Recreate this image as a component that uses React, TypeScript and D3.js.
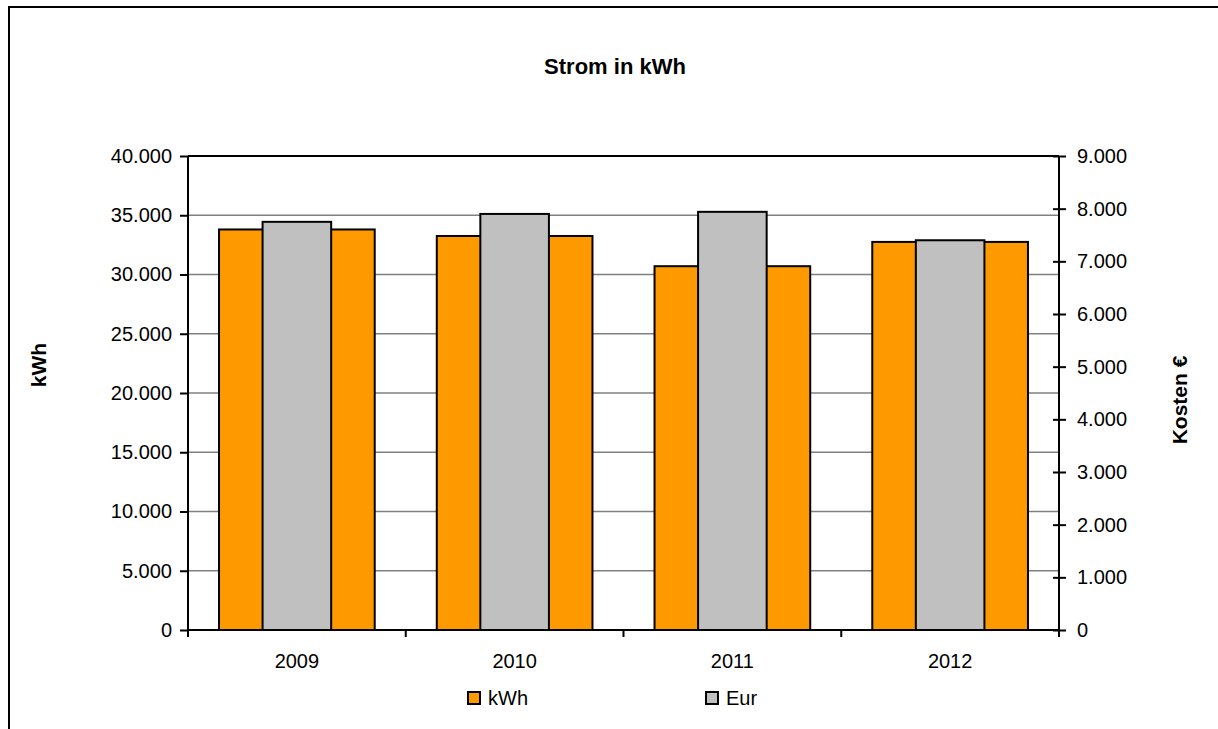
import { useEffect, useRef } from "react";
import * as d3 from "d3";

const YEARS = ["2009", "2010", "2011", "2012"];
const KWH = [33800, 33250, 30700, 32750];
const EUR = [7750, 7900, 7940, 7400];
const KWH_TICKS = [0, 5000, 10000, 15000, 20000, 25000, 30000, 35000, 40000];
const EUR_TICKS = [0, 1000, 2000, 3000, 4000, 5000, 6000, 7000, 8000, 9000];

const W = 1218;
const H = 729;
const PLOT = { left: 188, right: 1059, top: 156, bottom: 630 };
const ORANGE = "#FF9900";
const GRAY = "#C0C0C0";
const FONT = "Liberation Sans, Arial, sans-serif";

// German thousands separator
const fmt = (v: number) => (v === 0 ? "0" : d3.format(",")(v).replace(/,/g, "."));

export default function App() {
  const svgRef = useRef<SVGSVGElement>(null);

  useEffect(() => {
    if (!svgRef.current) return;
    const svg = d3.select(svgRef.current);
    svg.selectAll("*").remove();

    const x = d3.scaleBand().domain(YEARS).range([PLOT.left, PLOT.right]).padding(0);
    const yL = d3.scaleLinear().domain([0, 40000]).range([PLOT.bottom, PLOT.top]);
    const yR = d3.scaleLinear().domain([0, 9000]).range([PLOT.bottom, PLOT.top]);

    // outer frame (only left/top visible)
    svg.append("path")
      .attr("d", `M9,${H + 5} V7 H${W + 5}`)
      .attr("fill", "none")
      .attr("stroke", "#000")
      .attr("stroke-width", 2);

    // title
    svg.append("text")
      .attr("x", 615).attr("y", 74)
      .attr("text-anchor", "middle")
      .attr("font-family", FONT).attr("font-weight", "bold").attr("font-size", 22)
      .text("Strom in kWh");

    // gridlines
    svg.append("g")
      .selectAll("line")
      .data(KWH_TICKS.filter((t) => t > 0 && t < 40000))
      .join("line")
      .attr("x1", PLOT.left).attr("x2", PLOT.right)
      .attr("y1", (d) => yL(d)).attr("y2", (d) => yL(d))
      .attr("stroke", "#808080").attr("stroke-width", 1.5);

    // top border of plot
    svg.append("line")
      .attr("x1", PLOT.left).attr("x2", PLOT.right)
      .attr("y1", PLOT.top).attr("y2", PLOT.top)
      .attr("stroke", "#000").attr("stroke-width", 2);

    const bw = x.bandwidth();
    const ow = bw * 0.715;
    const gw = bw * 0.315;

    // kWh bars (wide, behind)
    svg.append("g")
      .selectAll("rect")
      .data(YEARS.map((y, i) => ({ y, v: KWH[i] })))
      .join("rect")
      .attr("x", (d) => x(d.y)! + bw / 2 - ow / 2)
      .attr("width", ow)
      .attr("y", (d) => yL(d.v))
      .attr("height", (d) => PLOT.bottom - yL(d.v))
      .attr("fill", ORANGE).attr("stroke", "#000").attr("stroke-width", 2);

    // Eur bars (narrow, front)
    svg.append("g")
      .selectAll("rect")
      .data(YEARS.map((y, i) => ({ y, v: EUR[i] })))
      .join("rect")
      .attr("x", (d) => x(d.y)! + bw / 2 - gw / 2)
      .attr("width", gw)
      .attr("y", (d) => yR(d.v))
      .attr("height", (d) => PLOT.bottom - yR(d.v))
      .attr("fill", GRAY).attr("stroke", "#000").attr("stroke-width", 2);

    // left axis
    const gl = svg.append("g")
      .attr("transform", `translate(${PLOT.left},0)`)
      .call(d3.axisLeft(yL).tickValues(KWH_TICKS).tickSize(8).tickPadding(8).tickFormat((d) => fmt(+d)));
    gl.select(".domain").remove();
    gl.selectAll("line").attr("stroke", "#000").attr("stroke-width", 2);
    gl.selectAll("text").attr("font-family", FONT).attr("font-size", 20).attr("fill", "#000");
    svg.append("line")
      .attr("x1", PLOT.left).attr("x2", PLOT.left)
      .attr("y1", PLOT.top).attr("y2", PLOT.bottom + 7)
      .attr("stroke", "#000").attr("stroke-width", 2);

    // right axis (ticks cross the line)
    const gr = svg.append("g")
      .attr("transform", `translate(${PLOT.right},0)`)
      .call(d3.axisRight(yR).tickValues(EUR_TICKS).tickSize(7).tickPadding(11).tickFormat((d) => fmt(+d)));
    gr.select(".domain").remove();
    gr.selectAll(".tick line").attr("x1", -6).attr("stroke", "#000").attr("stroke-width", 2);
    gr.selectAll("text").attr("font-family", FONT).attr("font-size", 20).attr("fill", "#000");
    svg.append("line")
      .attr("x1", PLOT.right).attr("x2", PLOT.right)
      .attr("y1", PLOT.top).attr("y2", PLOT.bottom + 7)
      .attr("stroke", "#000").attr("stroke-width", 2);

    // bottom axis
    svg.append("line")
      .attr("x1", PLOT.left).attr("x2", PLOT.right)
      .attr("y1", PLOT.bottom).attr("y2", PLOT.bottom)
      .attr("stroke", "#000").attr("stroke-width", 2);
    svg.append("g")
      .selectAll("line")
      .data(YEARS.slice(1))
      .join("line")
      .attr("x1", (d) => x(d)!).attr("x2", (d) => x(d)!)
      .attr("y1", PLOT.bottom).attr("y2", PLOT.bottom + 7)
      .attr("stroke", "#000").attr("stroke-width", 2);
    svg.append("g")
      .selectAll("text")
      .data(YEARS)
      .join("text")
      .attr("x", (d) => x(d)! + bw / 2)
      .attr("y", 668)
      .attr("text-anchor", "middle")
      .attr("font-family", FONT).attr("font-size", 20)
      .text((d) => d);

    // axis titles
    svg.append("text")
      .attr("transform", "translate(38,365) rotate(-90)")
      .attr("text-anchor", "middle").attr("dominant-baseline", "central")
      .attr("font-family", FONT).attr("font-weight", "bold").attr("font-size", 21)
      .text("kWh");
    svg.append("text")
      .attr("transform", "translate(1179,400) rotate(-90)")
      .attr("text-anchor", "middle").attr("dominant-baseline", "central")
      .attr("font-family", FONT).attr("font-weight", "bold").attr("font-size", 21)
      .text("Kosten €");

    // legend
    const legend = [
      { label: "kWh", color: ORANGE, x: 468 },
      { label: "Eur", color: GRAY, x: 706 },
    ];
    const lg = svg.append("g").selectAll("g").data(legend).join("g")
      .attr("transform", (d) => `translate(${d.x},692)`);
    lg.append("rect")
      .attr("width", 12).attr("height", 12)
      .attr("fill", (d) => d.color).attr("stroke", "#000").attr("stroke-width", 2);
    lg.append("text")
      .attr("x", 20).attr("y", 13)
      .attr("font-family", FONT).attr("font-size", 20)
      .text((d) => d.label);
  }, []);

  return (
    <svg
      ref={svgRef}
      width={W}
      height={H}
      style={{ position: "absolute", left: 0, top: 0, background: "#fff" }}
    />
  );
}
